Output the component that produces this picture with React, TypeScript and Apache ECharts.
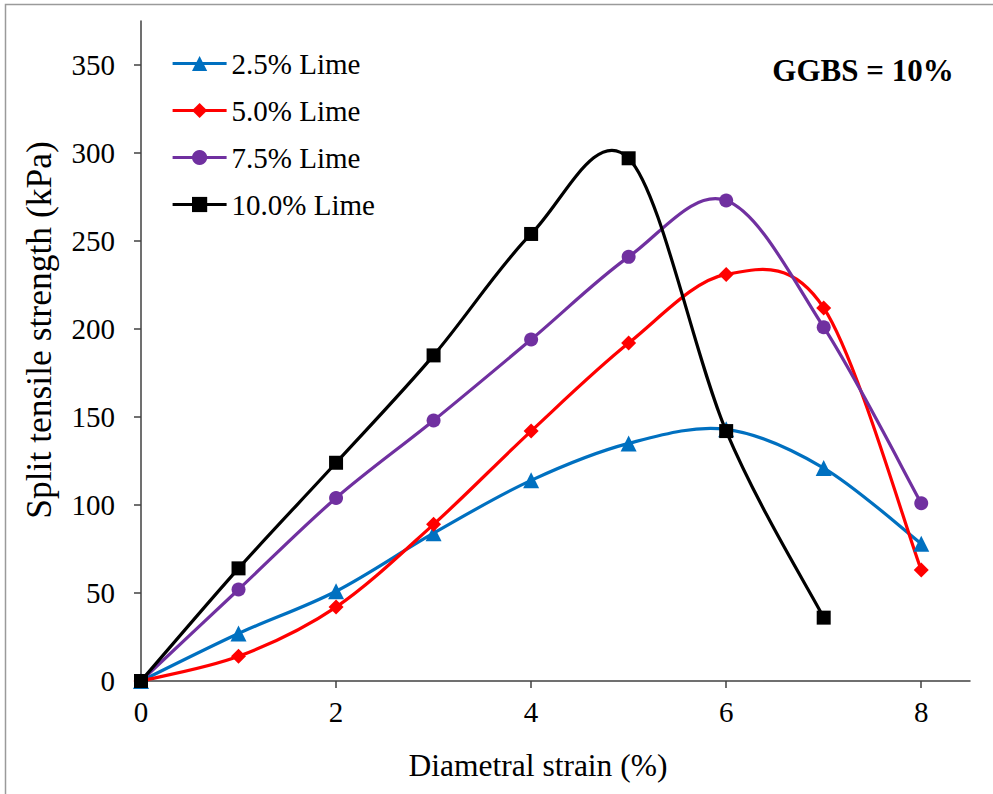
import { useEffect, useRef } from "react";
import * as echarts from "echarts";

// Diametral strain (%) at each test reading
const strain = [0, 1, 2, 3, 4, 5, 6, 7, 8];

// Split tensile strength (kPa) for each lime content, GGBS = 10%
const lime25 = [0, 27, 51, 84, 114, 135, 143, 121, 78];
const lime50 = [0, 14, 42, 89, 142, 192, 231, 212, 63];
const lime75 = [0, 52, 104, 148, 194, 241, 273, 201, 101];
const lime100 = [0, 64, 124, 185, 254, 297, 142, 36];

const seriesNames = ["2.5% Lime", "5.0% Lime", "7.5% Lime", "10.0% Lime"];
const seriesColors = ["#0070C0", "#FF0000", "#7030A0", "#000000"];
const seriesSymbols = ["triangle", "diamond", "circle", "rect"];
const seriesSymbolSizes = [16, 15, 14, 14];

const xTicks = [0, 2, 4, 6, 8];
const yTicks = [0, 50, 100, 150, 200, 250, 300, 350];

const FONT = "'Liberation Serif', 'Times New Roman', serif";

const toPoints = (ys: number[]) => ys.map((y, i) => [strain[i], y]);

// Smooth curve through the points: Catmull-Rom segments as cubic Béziers,
// computed in pixel space from the axes' own coordinate mapping.
function curveSeries(points: number[][], color: string) {
  return {
    type: "custom",
    silent: true,
    clip: false,
    data: points,
    encode: { x: 0, y: 1 },
    renderItem: (params: any, api: any) => {
      const i = params.dataIndex;
      const n = points.length;
      if (i >= n - 1) return null;
      const p = (k: number) => api.coord(points[Math.max(0, Math.min(n - 1, k))]);
      const p0 = p(i - 1);
      const p1 = p(i);
      const p2 = p(i + 1);
      const p3 = p(i + 2);
      return {
        type: "bezierCurve",
        shape: {
          x1: p1[0],
          y1: p1[1],
          x2: p2[0],
          y2: p2[1],
          cpx1: p1[0] + (p2[0] - p0[0]) / 6,
          cpy1: p1[1] + (p2[1] - p0[1]) / 6,
          cpx2: p2[0] - (p3[0] - p1[0]) / 6,
          cpy2: p2[1] - (p3[1] - p1[1]) / 6,
        },
        style: { stroke: color, lineWidth: 3.2, fill: null, lineCap: "round" },
      };
    },
  };
}

export default function App() {
  const ref = useRef<HTMLDivElement>(null);

  useEffect(() => {
    if (!ref.current) return;
    const chart = echarts.init(ref.current, undefined, { renderer: "svg" });
    const sets = [lime25, lime50, lime75, lime100].map(toPoints);

    const markerSeries = sets.map((pts, k) => ({
      type: "line",
      name: seriesNames[k],
      data: pts,
      symbol: seriesSymbols[k],
      symbolSize: seriesSymbolSizes[k],
      showAllSymbol: true,
      z: 3 + k,
      color: seriesColors[k],
      itemStyle: { color: seriesColors[k] },
      lineStyle: { width: 0, color: seriesColors[k] },
    }));
    const curves = sets.map((pts, k) => ({ ...curveSeries(pts, seriesColors[k]), z: 2 + k }));

    chart.setOption({
      animation: false,
      backgroundColor: "#ffffff",
      textStyle: { fontFamily: FONT },
      grid: { left: 141, right: 23, top: 21, bottom: 113, containLabel: false },
      legend: {
        data: seriesNames,
        orient: "vertical",
        left: 171,
        top: 49,
        padding: 0,
        itemWidth: 54,
        itemHeight: 19,
        itemGap: 18,
        lineStyle: { width: 3.2 },
        textStyle: { fontFamily: FONT, fontSize: 29, color: "#000" },
        selectedMode: false,
      },
      xAxis: {
        type: "value",
        min: 0,
        max: 8.5,
        interval: 2,
        axisLine: { show: true, lineStyle: { color: "#404040", width: 1.5 } },
        axisTick: { show: true, length: 7, customValues: xTicks, lineStyle: { color: "#404040", width: 1.5 } },
        axisLabel: { customValues: xTicks, margin: 16, fontFamily: FONT, fontSize: 29, color: "#000" },
        splitLine: { show: false },
      },
      yAxis: {
        type: "value",
        min: 0,
        max: 375,
        interval: 50,
        axisLine: { show: true, lineStyle: { color: "#404040", width: 1.5 } },
        axisTick: { show: true, length: 7, customValues: yTicks, lineStyle: { color: "#404040", width: 1.5 } },
        axisLabel: { customValues: yTicks, margin: 26, fontFamily: FONT, fontSize: 29, color: "#000" },
        splitLine: { show: false },
      },
      graphic: [
        {
          type: "rect",
          silent: true,
          shape: { x: 5.5, y: 4.5, width: 1100, height: 900 },
          style: { fill: null, stroke: "#9a9a9a", lineWidth: 1.5 },
        },
        {
          type: "text",
          x: 863,
          y: 70,
          style: {
            text: "GGBS = 10%",
            fontFamily: FONT,
            fontSize: 31,
            fontWeight: "bold",
            fill: "#000",
            align: "center",
            verticalAlign: "middle",
          },
        },
        {
          type: "text",
          x: 538,
          y: 765,
          style: {
            text: "Diametral strain (%)",
            fontFamily: FONT,
            fontSize: 31.5,
            fill: "#000",
            align: "center",
            verticalAlign: "middle",
          },
        },
        {
          type: "text",
          x: 39,
          y: 330,
          rotation: Math.PI / 2,
          style: {
            text: "Split tensile strength (kPa)",
            fontFamily: FONT,
            fontSize: 35.5,
            fill: "#000",
            align: "center",
            verticalAlign: "middle",
          },
        },
      ],
      series: [...curves, ...markerSeries],
    });

    return () => chart.dispose();
  }, []);

  return (
    <div
      ref={ref}
      style={{ position: "fixed", left: 0, top: 0, width: 993, height: 794 }}
    />
  );
}
